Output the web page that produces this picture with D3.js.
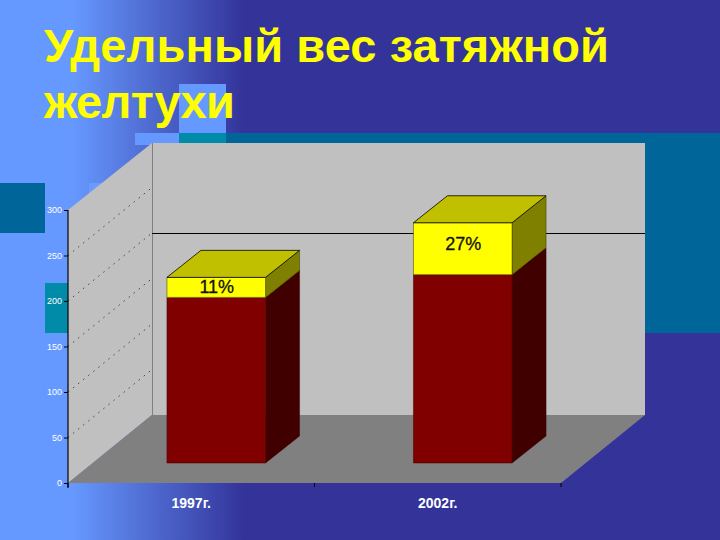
<!DOCTYPE html>
<html lang="ru">
<head>
<meta charset="utf-8">
<script src="https://cdn.jsdelivr.net/npm/d3@7/dist/d3.min.js"></script>
<style>html,body{margin:0;padding:0;background:#333399}svg{display:block}</style>
</head>
<body>
<svg id="c" width="720" height="540"></svg>
<script>
const titleLines = ["Удельный вес затяжной", "желтухи"];
const titleWidths = [565, 191];
const categories = ["1997г.", "2002г."];
const lowerValues = [182, 207];
const upperValues = [22, 57];
const barLabels = ["11%", "27%"];
const labelNudges = [6, 1];
const yTicks = [0, 50, 100, 150, 200, 250, 300];
const backGridValues = [200];
const wallDotValues = [50, 100, 150, 200, 250];

const svg = d3.select("#c");
const W = 720, H = 540;

const grad = svg.append("defs").append("linearGradient").attr("id", "bg");
[[0, "#6699ff"], [0.1, "#6699ff"], [0.34, "#333399"], [1, "#333399"]].forEach(s =>
  grad.append("stop").attr("offset", s[0]).attr("stop-color", s[1]));
svg.append("rect").attr("width", W).attr("height", H).attr("fill", "url(#bg)");

// decorative squares of the slide background
const deco = [
  [226, 133, 494, 200, "#006699"], [179, 133, 47, 10, "#008ca8"],
  [179, 84, 47, 49, "#6699ff"], [135, 133, 44, 12, "#6699ff"],
  [0, 183, 45, 50, "#006699"], [45, 283, 30, 50, "#008ca8"],
  [89, 183, 46, 50, "#6a9cff"]
];
svg.selectAll("rect.deco").data(deco).join("rect").attr("class", "deco")
  .attr("x", d => d[0]).attr("y", d => d[1]).attr("width", d => d[2]).attr("height", d => d[3])
  .attr("fill", d => d[4]);

// scales of the front plane of the 3-D box
const y = d3.scaleLinear().domain([0, 300]).range([483, 210]);
const x = d3.scaleBand().domain(categories).range([68, 561]).paddingInner(0.6).paddingOuter(0.3);
const wallDx = 84, wallDy = -68;      // full depth of the box
const frontDx = 25, frontDy = -20;    // bar front inside the box
const barDx = 34, barDy = -27;        // depth of a bar
const pts = a => a.map(p => p.join(",")).join(" ");

const x0 = x.range()[0], x1 = x.range()[1], y0 = y(0), yT = y(300);

// walls and floor
svg.append("polygon").attr("fill", "#c0c0c0")
  .attr("points", pts([[x0 + wallDx, yT + wallDy + 1], [x1 + wallDx, yT + wallDy + 1], [x1 + wallDx, y0 + wallDy], [x0 + wallDx, y0 + wallDy]]));
svg.append("polygon").attr("fill", "#c0c0c0")
  .attr("points", pts([[x0, yT], [x0 + wallDx, yT + wallDy + 1], [x0 + wallDx, y0 + wallDy], [x0, y0]]));
svg.append("polygon").attr("fill", "#808080")
  .attr("points", pts([[x0, y0], [x0 + wallDx, y0 + wallDy], [x1 + wallDx, y0 + wallDy], [x1, y0]]));
svg.append("line").attr("x1", x0 + wallDx + 0.5).attr("x2", x0 + wallDx + 0.5).attr("y1", yT + wallDy + 1).attr("y2", y0 + wallDy)
  .attr("stroke", "#808080").attr("stroke-width", 1);

// gridlines
svg.selectAll("line.grid").data(backGridValues).join("line").attr("class", "grid")
  .attr("x1", x0 + wallDx).attr("x2", x1 + wallDx)
  .attr("y1", d => y(d) + wallDy).attr("y2", d => y(d) + wallDy)
  .attr("stroke", "#000").attr("stroke-width", 1).attr("shape-rendering", "crispEdges");
svg.selectAll("line.wall").data(wallDotValues).join("line").attr("class", "wall")
  .attr("x1", x0).attr("x2", x0 + wallDx)
  .attr("y1", d => y(d)).attr("y2", d => y(d) + wallDy)
  .attr("stroke", "#444").attr("stroke-width", 1).attr("stroke-dasharray", "1.5 5");

// bars
const stacks = categories.map((c, i) => ({
  c, lo: lowerValues[i], hi: lowerValues[i] + upperValues[i], label: barLabels[i], nudge: labelNudges[i]
}));
function box(g, d, from, to, front, side, edge) {
  const l = x(d.c) + frontDx, r = l + x.bandwidth();
  const b = y(from) + frontDy, t = y(to) + frontDy;
  g.append("polygon").attr("fill", side).attr("stroke", edge).attr("stroke-width", 0.5)
    .attr("points", pts([[r, t], [r + barDx, t + barDy], [r + barDx, b + barDy], [r, b]]));
  g.append("polygon").attr("fill", front).attr("stroke", edge).attr("stroke-width", 0.5)
    .attr("points", pts([[l, t], [r, t], [r, b], [l, b]]));
}
const bars = svg.selectAll("g.bar").data(stacks).join("g").attr("class", "bar");
bars.each(function (d) {
  const g = d3.select(this);
  box(g, d, 0, d.lo, "#800000", "#400000", "#400000");
  box(g, d, d.lo, d.hi, "#ffff00", "#808000", "#333300");
  const l = x(d.c) + frontDx, r = l + x.bandwidth(), t = y(d.hi) + frontDy;
  g.append("polygon").attr("fill", "#c0c000").attr("stroke", "#000").attr("stroke-width", 0.8)
    .attr("points", pts([[l, t], [l + barDx, t + barDy], [r + barDx, t + barDy], [r, t]]));
  g.append("text").text(d.label)
    .attr("x", (l + r) / 2 + 0.5)
    .attr("y", (y(d.lo) + y(d.hi)) / 2 + frontDy + d.nudge)
    .attr("text-anchor", "middle")
    .attr("font-family", "Liberation Sans").attr("font-size", 18).attr("fill", "#111")
    .attr("stroke", "#111").attr("stroke-width", 0.3);
});

// axes
const axisL = svg.append("g").attr("transform", `translate(${x0},0)`)
  .call(d3.axisLeft(y).tickValues(yTicks).tickSize(4).tickSizeOuter(0).tickPadding(2));
axisL.select(".domain").attr("stroke", "#000").attr("stroke-width", 1.2)
  .attr("d", `M0,${yT}V${y0 + 5}`);
axisL.selectAll("line").attr("stroke", "#000");
axisL.selectAll("text").attr("fill", "#fff").attr("font-family", "Liberation Sans").attr("font-size", 9);

const xTickValues = [x0, (x0 + x1) / 2, x1];
svg.selectAll("line.xt").data(xTickValues).join("line").attr("class", "xt")
  .attr("x1", d => d).attr("x2", d => d).attr("y1", y0).attr("y2", y0 + 4)
  .attr("stroke", "#000");
svg.selectAll("text.cat").data(categories).join("text").attr("class", "cat").text(d => d)
  .attr("x", d => x(d) + x.bandwidth() / 2)
  .attr("y", 507.5).attr("text-anchor", "middle")
  .attr("font-family", "Liberation Sans").attr("font-weight", "bold").attr("font-size", 14)
  .attr("fill", "#fff");

// title
svg.selectAll("text.title").data(titleLines).join("text").attr("class", "title").text(d => d)
  .attr("x", 44).attr("y", (d, i) => 62 + i * 56)
  .attr("textLength", (d, i) => titleWidths[i]).attr("lengthAdjust", "spacing")
  .attr("font-family", "Liberation Sans").attr("font-weight", "bold").attr("font-size", 47)
  .attr("fill", "#ffff00");
</script>
</body>
</html>
